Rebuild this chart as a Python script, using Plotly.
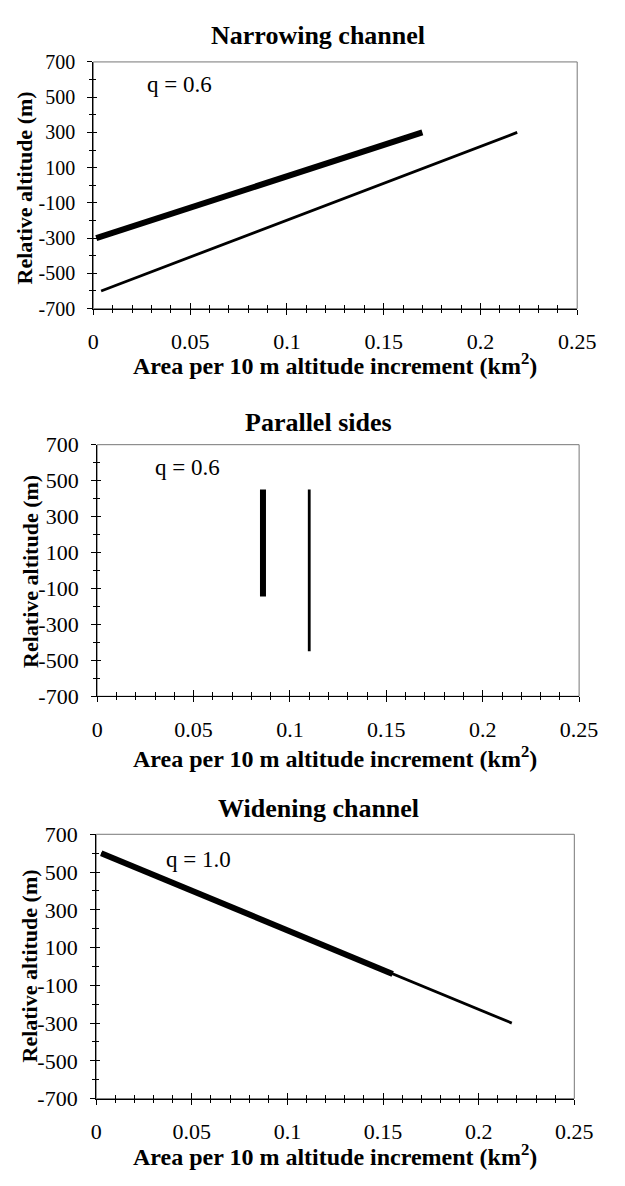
import plotly.graph_objects as go

# ---------------- data ----------------
x_tick_vals = [0, 0.05, 0.1, 0.15, 0.2, 0.25]
x_tick_text = ["0", "0.05", "0.1", "0.15", "0.2", "0.25"]
y_tick_vals = [-700, -500, -300, -100, 100, 300, 500, 700]
y_tick_text = ["-700", "-500", "-300", "-100", "100", "300", "500", "700"]

panel_titles = ["Narrowing channel", "Parallel sides", "Widening channel"]
q_labels = ["q = 0.6", "q = 0.6", "q = 1.0"]
q_label_x = [0.0446, 0.0468, 0.0537]
q_label_y = [574, 575, 567]

narrow_thick_x = [0.0015, 0.17]
narrow_thick_y = [-300, 300]
narrow_thin_x = [0.004, 0.219]
narrow_thin_y = [-600, 300]

parallel_thick_x = [0.086, 0.086]
parallel_thick_y = [-145, 450]
parallel_thin_x = [0.110, 0.110]
parallel_thin_y = [-450, 450]

widen_thin_x = [0.0026, 0.2173]
widen_thin_y = [600, -300]
widen_thick_x = [0.0026, 0.155]
widen_thick_y = [600, -40]

# ---------------- layout helpers ----------------
W, H = 625, 1186
SERIF = "Liberation Serif"

# plot area pixel boxes (left, right, top, bottom)
boxes = [(91, 595, 51, 303), (95, 597, 442, 699), (94, 592, 840, 1110)]
title_y_px = [24, 419, 814]
title_x_px = [325, 325, 326]
xtitle_y_px = [360, 761, 1168]
xtitle_x_px = [343, 343, 343]
ytitle_x_px = [19, 26, 24]
ytitle_y_px = [180, 571, 975]
ytick_font = [20, 22, 22]

def px2x(p):
    return p / W

def px2y(p):
    return 1 - p / H

fig = go.Figure()

series = [
    [(narrow_thin_x, narrow_thin_y, 2.8), (narrow_thick_x, narrow_thick_y, 6)],
    [(parallel_thin_x, parallel_thin_y, 2.8), (parallel_thick_x, parallel_thick_y, 6)],
    [(widen_thin_x, widen_thin_y, 2.8), (widen_thick_x, widen_thick_y, 6)],
]

layout = dict(
    width=W, height=H,
    margin=dict(l=0, r=0, t=0, b=0),
    paper_bgcolor="white", plot_bgcolor="white",
    showlegend=False,
    font=dict(family=SERIF, size=22, color="black"),
)
annotations = []
shapes = []

for i in range(3):
    n = i + 1
    xa = "x" if n == 1 else f"x{n}"
    ya = "y" if n == 1 else f"y{n}"
    l, r, t, b = boxes[i]
    xdom = [px2x(l), px2x(r)]
    ydom = [px2y(b), px2y(t)]

    for xs, ys, w in series[i]:
        fig.add_trace(go.Scatter(x=xs, y=ys, mode="lines", xaxis=xa, yaxis=ya,
                                 line=dict(color="black", width=w), hoverinfo="skip"))

    # main axes (outside ticks + labels)
    layout[f"xaxis{'' if n == 1 else n}"] = dict(
        domain=xdom, anchor=ya, range=[0, 0.25], fixedrange=True,
        tickmode="array", tickvals=x_tick_vals, ticktext=x_tick_text,
        ticks="outside", ticklen=5, tickwidth=1, tickcolor="black",
        minor=dict(tickmode="linear", tick0=0, dtick=0.01, ticks="outside",
                   ticklen=3, tickwidth=1, tickcolor="black"),
        showline=True, linecolor="black", linewidth=1.3,
        showgrid=False, zeroline=False,
        tickfont=dict(family=SERIF, size=22, color="black"),
        ticklabelstandoff=8,
    )
    layout[f"yaxis{'' if n == 1 else n}"] = dict(
        domain=ydom, anchor=xa, range=[-700, 700], fixedrange=True,
        tickmode="array", tickvals=y_tick_vals, ticktext=y_tick_text,
        ticks="outside", ticklen=5, tickwidth=1, tickcolor="black",
        minor=dict(tickmode="linear", tick0=-700, dtick=100, ticks="outside",
                   ticklen=3, tickwidth=1, tickcolor="black"),
        showline=True, linecolor="black", linewidth=1.3,
        showgrid=False, zeroline=False,
        tickfont=dict(family=SERIF, size=ytick_font[i], color="black"),
        ticklabelstandoff=8,
    )
    # overlay axes (inside ticks -> crossing tick marks)
    m = n + 3
    layout[f"xaxis{m}"] = dict(
        domain=xdom, anchor=ya, overlaying=xa, range=[0, 0.25], fixedrange=True,
        tickmode="array", tickvals=x_tick_vals, showticklabels=False,
        ticks="inside", ticklen=6, tickwidth=1, tickcolor="black",
        minor=dict(tickmode="linear", tick0=0, dtick=0.01, ticks="inside",
                   ticklen=4, tickwidth=1, tickcolor="black"),
        showline=False, showgrid=False, zeroline=False,
    )
    layout[f"yaxis{m}"] = dict(
        domain=ydom, anchor=xa, overlaying=ya, range=[-700, 700], fixedrange=True,
        tickmode="array", tickvals=y_tick_vals, showticklabels=False,
        ticks="inside", ticklen=4, tickwidth=1, tickcolor="black",
        minor=dict(tickmode="linear", tick0=-700, dtick=100, ticks="inside",
                   ticklen=3, tickwidth=1, tickcolor="black"),
        showline=False, showgrid=False, zeroline=False,
    )
    # invisible trace to activate overlay axes
    fig.add_trace(go.Scatter(x=[None], y=[None], xaxis=f"x{m}", yaxis=f"y{m}",
                             mode="lines", hoverinfo="skip"))

    # grey frame on top/right
    shapes.append(dict(type="rect", xref=f"{xa} domain", yref=f"{ya} domain",
                       x0=0, x1=1, y0=0, y1=1, line=dict(color="#777777", width=1),
                       layer="below"))

    annotations.append(dict(text=f"<b>{panel_titles[i]}</b>", xref="paper", yref="paper",
                            x=px2x(title_x_px[i]), y=px2y(title_y_px[i]),
                            xanchor="center", yanchor="middle", showarrow=False,
                            font=dict(family=SERIF, size=26, color="black")))
    annotations.append(dict(text="<b>Area per 10 m altitude increment (km<sup>2</sup>)</b>",
                            xref="paper", yref="paper",
                            x=px2x(xtitle_x_px[i]), y=px2y(xtitle_y_px[i]),
                            xanchor="center", yanchor="middle", showarrow=False,
                            font=dict(family=SERIF, size=24, color="black")))
    annotations.append(dict(text="<b>Relative altitude (m)</b>", xref="paper", yref="paper",
                            x=px2x(ytitle_x_px[i]), y=px2y(ytitle_y_px[i]),
                            xanchor="center", yanchor="middle", showarrow=False,
                            textangle=-90,
                            font=dict(family=SERIF, size=22, color="black")))
    annotations.append(dict(text=q_labels[i], xref=xa, yref=ya,
                            x=q_label_x[i], y=q_label_y[i],
                            xanchor="center", yanchor="middle", showarrow=False,
                            font=dict(family=SERIF, size=23, color="black")))

layout["annotations"] = annotations
layout["shapes"] = shapes
fig.update_layout(**layout)

fig.write_html("out.html")
